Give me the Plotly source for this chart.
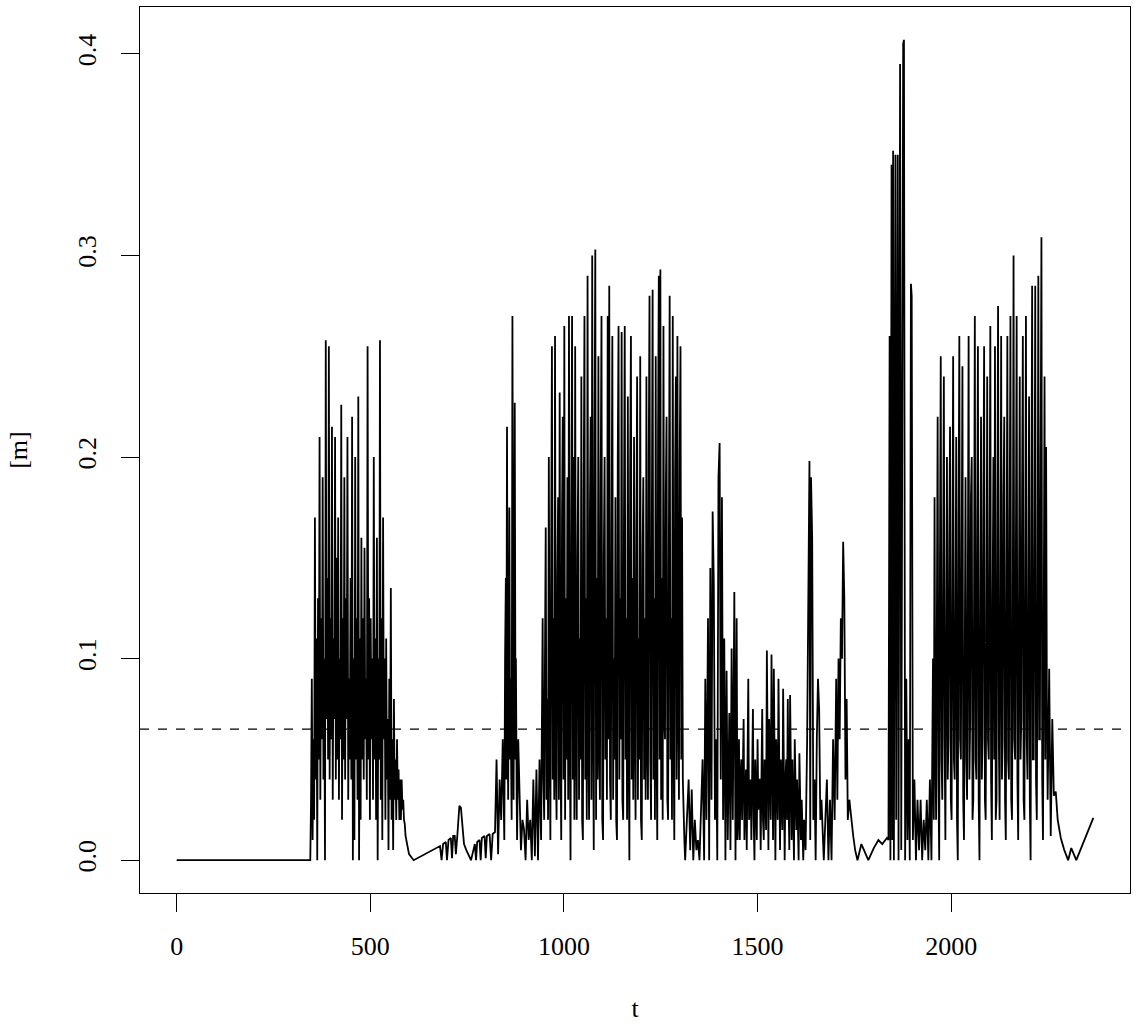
import plotly.graph_objects as go

# ---- data (t, value in metres) ----
flat_start = [(0, 0.0), (345, 0.0)]

burst_1 = [
    (347, 0.03), (349, 0.09), (351, 0.01), (353, 0.06), (355, 0.02), (357, 0.17),
    (359, 0.04), (361, 0.11), (363, 0.0), (365, 0.13), (367, 0.05), (369, 0.21),
    (371, 0.03), (373, 0.12), (375, 0.06), (377, 0.19), (379, 0.04), (381, 0.1),
    (383, 0.0), (385, 0.258), (387, 0.07), (389, 0.14), (391, 0.05), (393, 0.255),
    (395, 0.04), (397, 0.12), (399, 0.06), (401, 0.215), (403, 0.03), (405, 0.11),
    (407, 0.07), (409, 0.21), (411, 0.04), (413, 0.15), (415, 0.05), (417, 0.17),
    (419, 0.03), (421, 0.1), (423, 0.06), (425, 0.226), (427, 0.02), (429, 0.12),
    (431, 0.05), (433, 0.19), (435, 0.04), (437, 0.13), (439, 0.07), (441, 0.21),
    (443, 0.03), (445, 0.09), (447, 0.05), (449, 0.14), (451, 0.04), (453, 0.22),
    (455, 0.0), (457, 0.1), (459, 0.01), (461, 0.2), (463, 0.05), (465, 0.12),
    (467, 0.03), (469, 0.23), (471, 0.0), (473, 0.11), (475, 0.02), (477, 0.16),
    (479, 0.05), (481, 0.12), (483, 0.04), (485, 0.155), (487, 0.06), (489, 0.09),
    (491, 0.03), (493, 0.255), (495, 0.05), (497, 0.13), (499, 0.02), (501, 0.12),
    (503, 0.06), (505, 0.1), (507, 0.03), (509, 0.2), (511, 0.05), (513, 0.11),
    (515, 0.02), (517, 0.16), (519, 0.0), (521, 0.1), (523, 0.05), (525, 0.258),
    (527, 0.03), (529, 0.12), (531, 0.01), (533, 0.17), (535, 0.06), (537, 0.1),
    (539, 0.02), (541, 0.11), (543, 0.04), (545, 0.07), (547, 0.005), (549, 0.09),
    (551, 0.03), (553, 0.135), (555, 0.02), (557, 0.06), (559, 0.005), (561, 0.08),
    (563, 0.03), (565, 0.05), (567, 0.02), (569, 0.06), (571, 0.03), (573, 0.045),
    (575, 0.02), (577, 0.04), (579, 0.02), (581, 0.04), (583, 0.025), (585, 0.03),
    (587, 0.02), (589, 0.018), (591, 0.012), (593, 0.01), (596, 0.007), (600, 0.003),
    (612, 0.0),
]

quiet_1 = [
    (650, 0.004), (680, 0.007), (684, 0.0), (688, 0.008), (695, 0.009), (698, 0.0),
    (702, 0.01), (708, 0.011), (711, 0.001), (714, 0.012), (718, 0.012), (721, 0.003),
    (725, 0.013), (730, 0.027), (734, 0.026), (738, 0.018), (742, 0.008), (748, 0.005),
    (754, 0.002), (760, 0.0), (765, 0.004), (770, 0.008), (773, 0.0), (776, 0.009),
    (782, 0.01), (785, 0.0), (788, 0.011), (795, 0.012), (798, 0.001), (801, 0.012),
    (808, 0.013), (812, 0.0), (816, 0.013), (822, 0.014), (826, 0.05), (830, 0.003),
    (834, 0.04), (838, 0.02),
]

burst_2 = [
    (842, 0.06), (844, 0.02), (846, 0.01), (848, 0.1), (850, 0.14), (851, 0.04),
    (853, 0.215), (855, 0.06), (856, 0.03), (858, 0.12), (859, 0.175), (861, 0.05),
    (862, 0.09), (864, 0.04), (865, 0.02), (867, 0.27), (869, 0.08), (870, 0.03),
    (872, 0.15), (873, 0.227), (875, 0.05), (876, 0.1), (878, 0.03), (879, 0.01),
    (882, 0.06), (885, 0.035), (889, 0.005), (893, 0.02), (897, 0.015), (901, 0.0),
    (905, 0.03), (909, 0.01), (913, 0.02), (917, 0.0), (921, 0.04), (925, 0.002),
    (929, 0.045), (933, 0.0), (937, 0.05), (941, 0.01),
]

burst_3 = [
    (945, 0.12), (947, 0.04), (949, 0.02), (951, 0.1), (953, 0.165), (955, 0.03),
    (957, 0.08), (959, 0.02), (961, 0.2), (963, 0.06), (965, 0.01), (967, 0.15),
    (969, 0.255), (971, 0.04), (973, 0.12), (975, 0.03), (977, 0.26), (979, 0.05),
    (981, 0.02), (983, 0.14), (985, 0.18), (987, 0.03), (989, 0.232), (991, 0.06),
    (993, 0.01), (995, 0.17), (997, 0.22), (999, 0.04), (1001, 0.265), (1003, 0.02),
    (1005, 0.13), (1007, 0.05), (1009, 0.19), (1011, 0.03), (1013, 0.27), (1015, 0.07),
    (1017, 0.0), (1019, 0.16), (1021, 0.27), (1023, 0.04), (1025, 0.2), (1027, 0.02),
    (1029, 0.255), (1031, 0.06), (1033, 0.02), (1035, 0.15), (1037, 0.2), (1039, 0.03),
    (1041, 0.11), (1043, 0.05), (1045, 0.24), (1047, 0.02), (1049, 0.01), (1051, 0.18),
    (1053, 0.27), (1055, 0.04), (1057, 0.13), (1059, 0.02), (1061, 0.29), (1063, 0.06),
    (1065, 0.02), (1067, 0.17), (1069, 0.22), (1071, 0.03), (1073, 0.3), (1075, 0.08),
    (1077, 0.005), (1079, 0.21), (1081, 0.303), (1083, 0.02), (1085, 0.14), (1087, 0.04),
    (1089, 0.25), (1091, 0.06), (1093, 0.03), (1095, 0.19), (1097, 0.27), (1099, 0.02),
    (1101, 0.01), (1103, 0.15), (1105, 0.2), (1107, 0.05), (1109, 0.12), (1111, 0.03),
    (1113, 0.27), (1115, 0.06), (1117, 0.285), (1119, 0.04), (1121, 0.02), (1123, 0.16),
    (1125, 0.26), (1127, 0.03), (1129, 0.1), (1131, 0.05), (1133, 0.18), (1135, 0.02),
    (1137, 0.01), (1139, 0.2), (1141, 0.265), (1143, 0.04), (1145, 0.13), (1147, 0.06),
    (1149, 0.262), (1151, 0.03), (1153, 0.02), (1155, 0.17), (1157, 0.265), (1159, 0.05),
    (1161, 0.12), (1163, 0.02), (1165, 0.23), (1167, 0.06), (1169, 0.0), (1171, 0.19),
    (1173, 0.26), (1175, 0.04), (1177, 0.14), (1179, 0.03), (1181, 0.21), (1183, 0.07),
    (1185, 0.02), (1187, 0.16), (1189, 0.24), (1191, 0.03), (1193, 0.11), (1195, 0.05),
    (1197, 0.25), (1199, 0.02), (1201, 0.01), (1203, 0.15), (1205, 0.19), (1207, 0.04),
    (1209, 0.12), (1211, 0.03), (1213, 0.24), (1215, 0.06), (1217, 0.03), (1219, 0.2),
    (1221, 0.28), (1223, 0.05), (1225, 0.02), (1227, 0.17), (1229, 0.283), (1231, 0.04),
    (1233, 0.13), (1235, 0.02), (1237, 0.25), (1239, 0.06), (1241, 0.01), (1243, 0.21),
    (1245, 0.29), (1247, 0.05), (1249, 0.293), (1251, 0.03), (1253, 0.14), (1255, 0.02),
    (1257, 0.265), (1259, 0.07), (1261, 0.06), (1263, 0.18), (1265, 0.22), (1267, 0.03),
    (1269, 0.02), (1271, 0.16), (1273, 0.28), (1275, 0.05), (1277, 0.12), (1279, 0.02),
    (1281, 0.27), (1283, 0.06), (1285, 0.01), (1287, 0.19), (1289, 0.24), (1291, 0.04),
    (1293, 0.26), (1295, 0.08), (1297, 0.03), (1299, 0.2), (1301, 0.255), (1303, 0.05),
    (1305, 0.17), (1307, 0.04), (1309, 0.02), (1311, 0.01), (1313, 0.0),
]

burst_4 = [
    (1318, 0.02), (1322, 0.04), (1326, 0.005), (1330, 0.035), (1334, 0.0), (1338, 0.02),
    (1342, 0.005), (1346, 0.01), (1350, 0.0), (1354, 0.03), (1358, 0.05), (1362, 0.0),
    (1365, 0.09), (1368, 0.02), (1372, 0.12), (1375, 0.0), (1378, 0.145), (1381, 0.03),
    (1384, 0.173), (1387, 0.137), (1390, 0.02), (1393, 0.06), (1396, 0.0), (1399, 0.19),
    (1402, 0.207), (1405, 0.04), (1408, 0.18), (1411, 0.02), (1414, 0.11), (1417, 0.0),
    (1420, 0.094), (1423, 0.01), (1427, 0.073), (1430, 0.005), (1433, 0.105), (1436, 0.02),
    (1440, 0.133), (1443, 0.0), (1446, 0.12), (1448, 0.01),
]

noise_mid = [
    (1450, 0.02), (1452, 0.06), (1454, 0.01), (1456, 0.04), (1458, 0.05), (1460, 0.02),
    (1462, 0.045), (1464, 0.07), (1466, 0.01), (1468, 0.03), (1470, 0.045), (1472, 0.005),
    (1474, 0.04), (1476, 0.09), (1478, 0.02), (1480, 0.035), (1482, 0.04), (1484, 0.01),
    (1486, 0.05), (1488, 0.075), (1490, 0.02), (1492, 0.0), (1494, 0.05), (1496, 0.03),
    (1498, 0.01), (1500, 0.06), (1502, 0.025), (1504, 0.04), (1506, 0.04), (1508, 0.005),
    (1510, 0.03), (1512, 0.075), (1514, 0.02), (1516, 0.01), (1518, 0.05), (1520, 0.03),
    (1522, 0.015), (1524, 0.104), (1526, 0.02), (1528, 0.005), (1530, 0.07), (1532, 0.03),
    (1534, 0.02), (1536, 0.102), (1538, 0.04), (1540, 0.01), (1542, 0.095), (1544, 0.02),
    (1546, 0.0), (1548, 0.06), (1550, 0.03), (1552, 0.02), (1554, 0.09), (1556, 0.04),
    (1558, 0.005), (1560, 0.05), (1562, 0.02), (1564, 0.015), (1566, 0.085), (1568, 0.03),
    (1570, 0.0), (1572, 0.04), (1574, 0.05), (1576, 0.02), (1578, 0.08), (1580, 0.03),
    (1582, 0.005), (1584, 0.082), (1586, 0.04), (1588, 0.01), (1590, 0.05), (1592, 0.02),
    (1594, 0.0), (1596, 0.06), (1598, 0.03), (1600, 0.015), (1602, 0.04), (1604, 0.02),
    (1606, 0.0), (1608, 0.053), (1610, 0.02), (1612, 0.01), (1614, 0.03), (1616, 0.015),
    (1618, 0.0), (1620, 0.02), (1622, 0.01), (1624, 0.005),
]

spikes_1700 = [
    (1628, 0.06), (1631, 0.15), (1634, 0.198), (1636, 0.01), (1638, 0.19), (1641, 0.16),
    (1644, 0.02), (1647, 0.04), (1650, 0.0), (1653, 0.06), (1656, 0.09), (1659, 0.075),
    (1662, 0.02), (1665, 0.03), (1668, 0.01), (1671, 0.0), (1675, 0.02), (1679, 0.04),
    (1683, 0.0), (1687, 0.03), (1691, 0.0), (1695, 0.06), (1699, 0.02), (1703, 0.09),
    (1706, 0.03), (1709, 0.1), (1712, 0.06), (1715, 0.12), (1718, 0.1), (1721, 0.158),
    (1724, 0.13), (1727, 0.04), (1730, 0.08), (1733, 0.02), (1737, 0.03), (1742, 0.02),
    (1747, 0.012), (1752, 0.005), (1758, 0.0), (1768, 0.008), (1776, 0.004), (1786, 0.0),
    (1800, 0.006), (1812, 0.01), (1822, 0.008), (1834, 0.011),
]

peaks_1870 = [
    (1838, 0.01), (1841, 0.26), (1843, 0.0), (1846, 0.345), (1848, 0.01), (1850, 0.352),
    (1852, 0.0), (1856, 0.35), (1858, 0.02), (1862, 0.35), (1864, 0.0), (1868, 0.395),
    (1871, 0.005), (1876, 0.405), (1878, 0.407), (1881, 0.0), (1884, 0.09), (1887, 0.01),
    (1890, 0.06), (1893, 0.0), (1896, 0.286), (1898, 0.28), (1901, 0.01), (1905, 0.04),
    (1909, 0.0), (1913, 0.03), (1917, 0.005), (1921, 0.03), (1925, 0.0), (1929, 0.02),
    (1933, 0.005), (1937, 0.03), (1941, 0.0), (1945, 0.04),
]

burst_5 = [
    (1949, 0.0), (1951, 0.05), (1953, 0.1), (1955, 0.02), (1957, 0.18), (1959, 0.06),
    (1961, 0.02), (1963, 0.12), (1965, 0.22), (1967, 0.04), (1969, 0.0), (1971, 0.15),
    (1973, 0.25), (1975, 0.05), (1977, 0.03), (1979, 0.13), (1981, 0.24), (1983, 0.06),
    (1985, 0.01), (1987, 0.11), (1989, 0.2), (1991, 0.04), (1993, 0.06), (1995, 0.16),
    (1997, 0.215), (1999, 0.03), (2001, 0.02), (2003, 0.14), (2005, 0.25), (2007, 0.05),
    (2009, 0.04), (2011, 0.12), (2013, 0.21), (2015, 0.02), (2017, 0.0), (2019, 0.17),
    (2021, 0.26), (2023, 0.06), (2025, 0.05), (2027, 0.15), (2029, 0.245), (2031, 0.03),
    (2033, 0.01), (2035, 0.1), (2037, 0.19), (2039, 0.05), (2041, 0.03), (2043, 0.14),
    (2045, 0.26), (2047, 0.04), (2049, 0.07), (2051, 0.18), (2053, 0.2), (2055, 0.02),
    (2057, 0.03), (2059, 0.13), (2061, 0.27), (2063, 0.05), (2065, 0.04), (2067, 0.16),
    (2069, 0.255), (2071, 0.03), (2073, 0.0), (2075, 0.12), (2077, 0.22), (2079, 0.04),
    (2081, 0.06), (2083, 0.17), (2085, 0.255), (2087, 0.03), (2089, 0.02), (2091, 0.11),
    (2093, 0.24), (2095, 0.06), (2097, 0.05), (2099, 0.15), (2101, 0.265), (2103, 0.04),
    (2105, 0.01), (2107, 0.13), (2109, 0.2), (2111, 0.05), (2113, 0.255), (2115, 0.02),
    (2117, 0.03), (2119, 0.16), (2121, 0.275), (2123, 0.06), (2125, 0.02), (2127, 0.12),
    (2129, 0.26), (2131, 0.04), (2133, 0.06), (2135, 0.18), (2137, 0.22), (2139, 0.03),
    (2141, 0.01), (2143, 0.14), (2145, 0.26), (2147, 0.05), (2149, 0.04), (2151, 0.17),
    (2153, 0.27), (2155, 0.03), (2157, 0.02), (2159, 0.12), (2161, 0.3), (2163, 0.06),
    (2165, 0.05), (2167, 0.15), (2169, 0.27), (2171, 0.04), (2173, 0.01), (2175, 0.13),
    (2177, 0.24), (2179, 0.05), (2181, 0.07), (2183, 0.18), (2185, 0.26), (2187, 0.03),
    (2189, 0.02), (2191, 0.14), (2193, 0.27), (2195, 0.06), (2197, 0.04), (2199, 0.12),
    (2201, 0.23), (2203, 0.03), (2205, 0.0), (2207, 0.17), (2209, 0.285), (2211, 0.05),
    (2213, 0.05), (2215, 0.15), (2217, 0.285), (2219, 0.04), (2221, 0.02), (2223, 0.13),
    (2225, 0.29), (2227, 0.06), (2229, 0.06), (2231, 0.2), (2233, 0.309), (2235, 0.04),
    (2237, 0.01), (2239, 0.12), (2241, 0.24), (2243, 0.05), (2245, 0.205), (2247, 0.08),
    (2249, 0.03), (2251, 0.06), (2253, 0.095),
]

tail = [
    (2257, 0.012), (2261, 0.07), (2265, 0.032), (2270, 0.034), (2275, 0.02), (2283, 0.011),
    (2292, 0.005), (2302, 0.0), (2310, 0.006), (2323, 0.0), (2367, 0.021),
]

threshold = 0.065
x_ticks = [0, 500, 1000, 1500, 2000]
y_ticks = [0.0, 0.1, 0.2, 0.3, 0.4]
y_tick_text = ["0.0", "0.1", "0.2", "0.3", "0.4"]

series = (flat_start + burst_1 + quiet_1 + burst_2 + burst_3 + burst_4 + noise_mid
          + spikes_1700 + peaks_1870 + burst_5 + tail)
t = [p[0] for p in series]
m = [p[1] for p in series]

# R-style 4% axis padding
t_pad = 0.04 * (max(t) - min(t))
m_pad = 0.04 * (max(m) - min(m))

FONT = "Liberation Serif, Times New Roman, serif"

fig = go.Figure()
fig.add_trace(go.Scatter(x=t, y=m, mode="lines",
                         line=dict(color="black", width=1.8),
                         showlegend=False, hoverinfo="x+y"))

fig.add_shape(type="line", xref="paper", x0=0, x1=1, yref="y",
              y0=threshold, y1=threshold,
              line=dict(color="black", width=1.3, dash="dash"))

axis_common = dict(showgrid=False, zeroline=False, showline=True, mirror=True,
                   linecolor="black", linewidth=1.3, ticks="outside", ticklen=18,
                   tickwidth=1.3, tickcolor="black",
                   tickfont=dict(family=FONT, size=26, color="black"))

fig.update_layout(
    width=1136, height=1034,
    paper_bgcolor="white", plot_bgcolor="white",
    margin=dict(l=140, r=6, t=7, b=141),
    font=dict(family=FONT, size=26, color="black"),
    xaxis=dict(range=[min(t) - t_pad, max(t) + t_pad], tickvals=x_ticks,
               ticklabelstandoff=12,
               title=dict(text="t", font=dict(family=FONT, size=26), standoff=38),
               **axis_common),
    yaxis=dict(range=[min(m) - m_pad, max(m) + m_pad], tickvals=y_ticks,
               ticktext=y_tick_text, tickangle=-90, ticklabelstandoff=14,
               title=dict(text="[m]", font=dict(family=FONT, size=26), standoff=38),
               **axis_common),
)

fig.write_html("out.html", config={"displayModeBar": False},
               post_script="document.body.style.margin='0';document.body.style.overflow='hidden';")
